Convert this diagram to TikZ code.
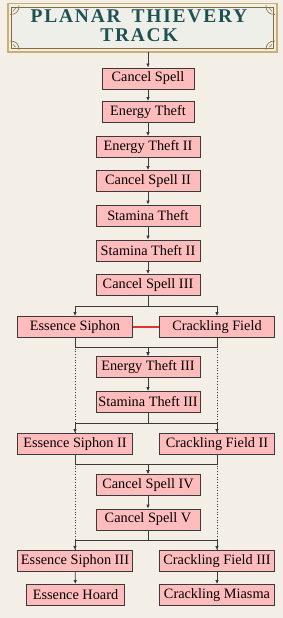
\documentclass[tikz,border=0pt]{standalone}
\usepackage{fontspec}
\setmainfont{Liberation Serif}
\usetikzlibrary{arrows.meta}

\definecolor{paper}{HTML}{F3EFE6}
\definecolor{bannerfill}{HTML}{EFEFEA}
\definecolor{gold}{HTML}{CBAE72}
\definecolor{goldd}{HTML}{8A6A3A}
\definecolor{teal}{HTML}{1E5252}
\definecolor{boxpink}{HTML}{FFBCBC}
\definecolor{edge}{HTML}{3A3A3A}
\definecolor{linkred}{HTML}{E03434}

\tikzset{
  talent/.style={draw=edge, line width=0.8pt, fill=boxpink, minimum height=21pt,
    inner sep=0pt, font=\fontsize{14.3}{16}\selectfont},
  narrow/.style={talent, minimum width=92pt},
  mid/.style={talent, minimum width=104pt},
  wide/.style={talent, minimum width=115pt},
  link/.style={draw=edge, line width=0.8pt, -{Latex[length=4pt,width=3.5pt]}},
  prereq/.style={draw=edge, line width=0.7pt, dotted},
  bond/.style={draw=linkred, line width=1.2pt},
  banner text/.style={teal, font=\fontsize{19.5}{20}\selectfont\bfseries\addfontfeatures{LetterSpace=9}}
}

\begin{document}
\begin{tikzpicture}[x=1pt,y=-1pt]
\fill[paper] (0,0) rectangle (283,618);
\useasboundingbox (0,0) rectangle (283,618);

% title banner
\draw[gold, line width=1.8pt, fill=bannerfill] (8,3.5) rectangle (277,52);
\draw[goldd, line width=0.5pt] (11.5,7) rectangle (273.5,48.5);
\foreach \cx/\cy/\sx/\sy in {8/3.5/1/1, 277/3.5/-1/1, 8/52/1/-1, 277/52/-1/-1} {
  \draw[goldd, line width=0.6pt] (\cx+2*\sx,\cy+11*\sy) .. controls (\cx+8*\sx,\cy+11*\sy) and (\cx+11*\sx,\cy+8*\sy) .. (\cx+11*\sx,\cy+2*\sy);
  \draw[goldd, line width=0.5pt] (\cx+5*\sx,\cy+8*\sy) .. controls (\cx+7*\sx,\cy+5*\sy) .. (\cx+8*\sx,\cy+5*\sy);
}
\node[banner text] (title) at (139,16.5) {PLANAR\hspace{11pt}THIEVERY};
\node[banner text] (title2) at (139,35.5) {TRACK};
\coordinate (bannerfoot) at (148,52);

% main column
\node[narrow] (cs1) at (148,78.5) {Cancel Spell};
\node[narrow] (et1) at (148,112) {Energy Theft};
\node[mid] (et2) at (148,147) {Energy Theft II};
\node[mid] (cs2) at (148,181) {Cancel Spell II};
\node[mid] (st1) at (148,215.5) {Stamina Theft};
\node[mid] (st2) at (148,250.5) {Stamina Theft II};
\node[mid] (cs3) at (148,285) {Cancel Spell III};

\node[wide] (es1) at (75,327) {Essence Siphon};
\node[wide] (cf1) at (217,327) {Crackling Field};

\node[mid] (et3) at (148,367) {Energy Theft III};
\node[mid] (st3) at (148,402) {Stamina Theft III};

\node[wide] (es2) at (75,444) {Essence Siphon II};
\node[wide] (cf2) at (217,444) {Crackling Field II};

\node[mid] (cs4) at (148,485) {Cancel Spell IV};
\node[mid] (cs5) at (148,519.5) {Cancel Spell V};

\node[wide] (es3) at (75,561) {Essence Siphon III};
\node[wide] (cf3) at (217,561) {Crackling Field III};
\node[talent, minimum width=98pt] (eh) at (75.5,595) {Essence Hoard};
\node[wide] (cm) at (217,595) {Crackling Miasma};

% dotted prerequisites
\draw[prereq] (es1.south) -- (es2.north);
\draw[prereq] (cf1.south) -- (cf2.north);
\draw[prereq] (es2.south) -- (es3.north);
\draw[prereq] (cf2.south) -- (cf3.north);

% straight links
\draw[link] (bannerfoot) -- (cs1.north);
\draw[link] (cs1) -- (et1);
\draw[link] (et1) -- (et2);
\draw[link] (et2) -- (cs2);
\draw[link] (cs2) -- (st1);
\draw[link] (st1) -- (st2);
\draw[link] (st2) -- (cs3);
\draw[link] (et3) -- (st3);
\draw[link] (cs4) -- (cs5);
\draw[link] (es3) -- (eh);
\draw[link] (cf3) -- (cm);

% branches and merges
\draw[link] (cs3.south) -- ++(0,10.5) -| (es1.north);
\draw[link] (cs3.south) -- ++(0,10.5) -| (cf1.north);
\draw[link] (es1.south) -- ++(0,9.5) -| (et3.north);
\draw[link] (cf1.south) -- ++(0,9.5) -| (et3.north);
\draw[link] (st3.south) -- ++(0,10) -| (es2.north);
\draw[link] (st3.south) -- ++(0,10) -| (cf2.north);
\draw[link] (es2.south) -- ++(0,9.5) -| (cs4.north);
\draw[link] (cf2.south) -- ++(0,9.5) -| (cs4.north);
\draw[link] (cs5.south) -- ++(0,10) -| (es3.north);
\draw[link] (cs5.south) -- ++(0,10) -| (cf3.north);

% choice node pair
\draw[bond] (es1.east) -- (cf1.west);
\end{tikzpicture}
\end{document}
